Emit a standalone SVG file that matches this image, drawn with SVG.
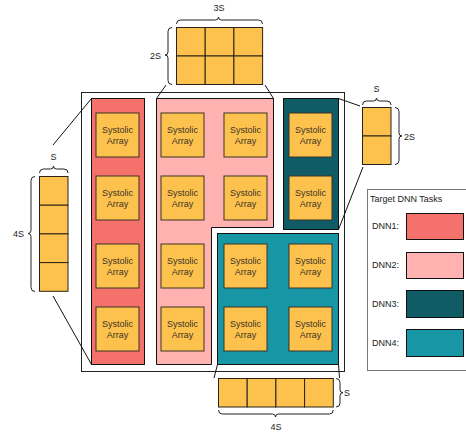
<svg xmlns="http://www.w3.org/2000/svg" width="466" height="432" viewBox="0 0 466 432">
  <style>
    .sa { fill: #FDC24D; stroke: #3a3228; stroke-width: 1; }
    .cell { fill: #FDC24D; stroke: #2a2218; stroke-width: 1; }
    .sat { font-family: "Liberation Sans", Arial, sans-serif; font-size: 9px; fill: #3a3228; text-anchor: middle; }
    .lbl { font-family: "Liberation Sans", Arial, sans-serif; font-size: 9px; fill: #222; }
    .brace { fill: none; stroke: #222; stroke-width: 1; }
    .conn { fill: none; stroke: #111; stroke-width: 1; }
    .region { stroke: #111; stroke-width: 1; }
    .dnn1 { fill: #F5716B; }
    .dnn2 { fill: #FFB2AF; }
    .dnn3 { fill: #0F5C66; }
    .dnn4 { fill: #1796A5; }
  </style>
  <defs>
    <g id="sa-tile">
      <rect class="sa" x="0" y="0" width="43" height="44"/>
      <text class="sat" x="21.5" y="20">Systolic</text>
      <text class="sat" x="21.5" y="31">Array</text>
    </g>
  </defs>
  <rect width="466" height="432" fill="#ffffff"/>

  <!-- chip outline -->
  <g id="chip">
    <rect x="81.5" y="92.5" width="263" height="279" fill="#ffffff" stroke="#222" stroke-width="1"/>
  </g>

  <!-- task regions -->
  <g id="dnn1-region">
    <rect class="region dnn1" x="91.5" y="98.5" width="53" height="266"/>
  </g>
  <g id="dnn2-region">
    <path class="region dnn2" d="M156.5 98.5 H273.5 V227.5 H211.5 V364.5 H156.5 Z"/>
  </g>
  <g id="dnn3-region">
    <rect class="region dnn3" x="283.5" y="98.5" width="55" height="131"/>
  </g>
  <g id="dnn4-region">
    <rect class="region dnn4" x="217.5" y="233.5" width="121" height="131"/>
  </g>

  <!-- systolic array tiles -->
  <g id="sa-grid">
    <use href="#sa-tile" x="96" y="113"/>
    <use href="#sa-tile" x="96" y="176"/>
    <use href="#sa-tile" x="96" y="244"/>
    <use href="#sa-tile" x="96" y="307"/>
    <use href="#sa-tile" x="161" y="113"/>
    <use href="#sa-tile" x="161" y="176"/>
    <use href="#sa-tile" x="161" y="244"/>
    <use href="#sa-tile" x="161" y="307"/>
    <use href="#sa-tile" x="224" y="113"/>
    <use href="#sa-tile" x="224" y="176"/>
    <use href="#sa-tile" x="224" y="244"/>
    <use href="#sa-tile" x="224" y="307"/>
    <use href="#sa-tile" x="289" y="113"/>
    <use href="#sa-tile" x="289" y="176"/>
    <use href="#sa-tile" x="289" y="244"/>
    <use href="#sa-tile" x="289" y="307"/>
  </g>

  <!-- connectors from regions to their shape blocks -->
  <g id="connectors">
    <line class="conn" x1="166" y1="85" x2="156.5" y2="98.5"/>
    <line class="conn" x1="265" y1="85" x2="273.5" y2="98.5"/>
    <line class="conn" x1="338.5" y1="98.5" x2="360" y2="106"/>
    <line class="conn" x1="338.5" y1="229.5" x2="363" y2="167"/>
    <line class="conn" x1="53" y1="145" x2="91.5" y2="98.5"/>
    <line class="conn" x1="53" y1="296" x2="91.5" y2="364.5"/>
    <line class="conn" x1="217.5" y1="364.5" x2="214" y2="378"/>
    <line class="conn" x1="338.5" y1="364.5" x2="339.5" y2="378"/>
  </g>

  <!-- 3S x 2S block -->
  <g id="block-dnn2">
    <rect class="cell" x="176.5" y="27.5" width="28.7" height="28.5"/>
    <rect class="cell" x="205.2" y="27.5" width="28.7" height="28.5"/>
    <rect class="cell" x="233.9" y="27.5" width="28.7" height="28.5"/>
    <rect class="cell" x="176.5" y="56" width="28.7" height="28.5"/>
    <rect class="cell" x="205.2" y="56" width="28.7" height="28.5"/>
    <rect class="cell" x="233.9" y="56" width="28.7" height="28.5"/>
    <path class="brace" d="M176.5 24 q0 -4 4 -4 H215.5 q3 0 3 -3 q0 3 3 3 H258.5 q4 0 4 4"/>
    <text class="lbl" x="219" y="11" text-anchor="middle">3S</text>
    <path class="brace" d="M172 27.5 q-4 0 -4 4 V52 q0 3 -3 3 q3 0 3 3 V80.5 q0 4 4 4"/>
    <text class="lbl" x="161" y="58.5" text-anchor="end">2S</text>
  </g>

  <!-- S x 2S block -->
  <g id="block-dnn3">
    <rect class="cell" x="362.5" y="107.5" width="28.5" height="28.5"/>
    <rect class="cell" x="362.5" y="136" width="28.5" height="28.5"/>
    <path class="brace" d="M362.5 105 q0 -4 4 -4 H373.5 q3 0 3 -3 q0 3 3 3 H387 q4 0 4 4"/>
    <text class="lbl" x="376.5" y="92" text-anchor="middle">S</text>
    <path class="brace" d="M395 107.5 q4 0 4 4 V133 q0 3 3 3 q-3 0 -3 3 V160.5 q0 4 -4 4"/>
    <text class="lbl" x="404" y="139.5">2S</text>
  </g>

  <!-- S x 4S block -->
  <g id="block-dnn1">
    <rect class="cell" x="39.5" y="176.5" width="28.5" height="28.7"/>
    <rect class="cell" x="39.5" y="205.2" width="28.5" height="28.7"/>
    <rect class="cell" x="39.5" y="233.9" width="28.5" height="28.7"/>
    <rect class="cell" x="39.5" y="262.6" width="28.5" height="28.7"/>
    <path class="brace" d="M39.5 173 q0 -4 4 -4 H50.5 q3 0 3 -3 q0 3 3 3 H64 q4 0 4 4"/>
    <text class="lbl" x="53.5" y="160" text-anchor="middle">S</text>
    <path class="brace" d="M35 176.5 q-4 0 -4 4 V230.5 q0 3 -3 3 q3 0 3 3 V287.5 q0 4 4 4"/>
    <text class="lbl" x="24" y="237" text-anchor="end">4S</text>
  </g>

  <!-- 4S x S block -->
  <g id="block-dnn4">
    <rect class="cell" x="218.5" y="378.5" width="28.7" height="28.5"/>
    <rect class="cell" x="247.2" y="378.5" width="28.7" height="28.5"/>
    <rect class="cell" x="275.9" y="378.5" width="28.7" height="28.5"/>
    <rect class="cell" x="304.6" y="378.5" width="28.7" height="28.5"/>
    <path class="brace" d="M218.5 410 q0 4 4 4 H272.5 q3 0 3 3 q0 -3 3 -3 H329.3 q4 0 4 -4"/>
    <text class="lbl" x="276" y="430" text-anchor="middle">4S</text>
    <path class="brace" d="M336 378.5 q4 0 4 4 V389.7 q0 3 3 3 q-3 0 -3 3 V403 q0 4 -4 4"/>
    <text class="lbl" x="344" y="396">S</text>
  </g>

  <!-- legend -->
  <g id="legend">
    <rect x="367.5" y="189.5" width="102" height="181" fill="#ffffff" stroke="#777" stroke-width="1"/>
    <text class="lbl" x="370" y="201.5" font-size="9.5px">Target DNN Tasks</text>
    <text class="lbl" x="372" y="229" font-size="8px">DNN1:</text>
    <rect class="region dnn1" x="406.5" y="213.5" width="57" height="26"/>
    <text class="lbl" x="372" y="268" font-size="8px">DNN2:</text>
    <rect class="region dnn2" x="406.5" y="252.5" width="57" height="26"/>
    <text class="lbl" x="372" y="307" font-size="8px">DNN3:</text>
    <rect class="region dnn3" x="406.5" y="290.5" width="57" height="27"/>
    <text class="lbl" x="372" y="346" font-size="8px">DNN4:</text>
    <rect class="region dnn4" x="406.5" y="329.5" width="57" height="27"/>
  </g>
</svg>
